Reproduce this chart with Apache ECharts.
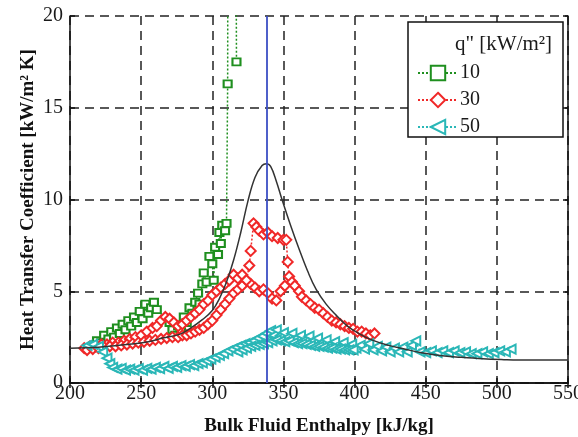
<!DOCTYPE html>
<html><head><meta charset="utf-8">
<script src="https://cdn.jsdelivr.net/npm/echarts@6/dist/echarts.min.js"></script>
<style>html,body{margin:0;padding:0;background:#fff}#c{width:578px;height:437px}</style>
</head><body><div id="c"></div>
<script>
// ---- data ----
const xTicks = [200, 250, 300, 350, 400, 450, 500, 550];
const yTicks = [0, 5, 10, 15, 20];
const legendNames = ['10', '30', '50'];
const markerEnthalpy = 338;

const q10X = [213,216,219,222,224,227,229,231,233,235,237,239,241,243,245,247,249,251,253,255,257,259,261,
  270,272,274,276,278,280,282,284,286,288,290,291,293,294,296,298,300,301,302,304,305,306,307,309,310,310.8,311,316.5,317];
const q10Y = [1.9,2.0,2.3,2.2,2.6,2.4,2.8,2.5,3.0,2.7,3.2,2.9,3.4,3.1,3.6,3.3,3.9,3.5,4.3,3.8,4.1,4.4,4.0,
  3.3,2.9,2.6,3.1,2.8,3.6,3.3,4.1,3.8,4.4,4.9,4.3,5.4,6.0,5.5,6.9,6.5,5.6,7.4,7.0,8.2,7.6,8.6,8.3,8.7,16.3,30,30,17.5];

const q30aX = [210,214,218,222,226,230,234,238,242,246,250,254,258,261,264,267,270,273,276,279,282,285,288,291,294,297,300,303,306,309,312,315,318,321,324,327,330,333,336,339,342,345,348,351];
const q30aY = [1.9,2.0,2.0,2.1,2.1,2.2,2.2,2.3,2.4,2.5,2.6,2.8,3.0,3.1,3.4,3.6,3.5,3.3,3.1,3.2,3.4,3.6,3.8,4.0,4.3,4.5,4.8,5.0,5.2,5.4,5.6,5.9,5.7,5.9,5.6,5.4,5.2,5.0,5.1,4.9,4.6,4.5,5.0,5.3];
const q30bX = [212,216,220,224,228,232,236,240,244,248,252,256,260,264,268,272,276,279,282,285,288,291,294,297,300,303,306,309,312,315,318,321,324,326,327,329,331,333,336,339,342,346,350,352,353,354,356,358,361,363,366,369,372,375,378,381,384,387,390,393,396,399,402,405,408,411,414];
const q30bY = [1.8,1.85,1.9,1.95,2.0,2.0,2.05,2.1,2.15,2.2,2.25,2.3,2.35,2.4,2.45,2.5,2.5,2.6,2.6,2.7,2.8,2.9,3.0,3.2,3.4,3.7,4.0,4.3,4.6,4.9,5.1,5.3,5.6,6.4,7.2,8.7,8.5,8.3,8.1,8.2,8.0,7.9,7.8,7.8,6.6,5.8,5.5,5.3,5.0,4.7,4.5,4.3,4.1,4.0,3.8,3.6,3.4,3.3,3.2,3.1,3.0,2.95,2.8,2.8,2.7,2.6,2.7];

const q50aX = [212,216,220,223,226,228,230,233,236,239,242,245,248,251,254,257,260,263,266,269,272,275,278,281,284,287,290,293,296,299,302,305,308,311,314,317,320,323,326,329,332,335,338,341,343,345,348,350,353,356,359,362,365,368,371,374,377,380,383,386,389,392,395,398,401,404,407,410,413,416,419,422,425,428,431,434,437,440,443,446,450,454,458,462,466,470,474,478,482,486,490,494,498,502,506,510];
const q50aY = [2.05,2.1,2.0,1.7,1.35,1.05,0.85,0.75,0.8,0.7,0.75,0.7,0.78,0.7,0.8,0.75,0.85,0.78,0.9,0.8,0.9,0.85,0.95,0.9,1.0,0.95,1.05,1.1,1.2,1.3,1.4,1.5,1.6,1.75,1.85,1.95,2.05,2.15,2.2,2.3,2.45,2.55,2.7,2.85,2.6,2.9,2.6,2.75,2.5,2.7,2.45,2.6,2.35,2.55,2.3,2.45,2.2,2.35,2.1,2.25,2.0,2.2,1.95,2.1,1.9,2.05,1.85,2.15,1.8,2.0,1.75,1.95,1.7,1.9,1.7,1.95,1.7,2.05,2.3,1.7,1.65,1.75,1.65,1.75,1.65,1.75,1.65,1.7,1.6,1.6,1.7,1.6,1.65,1.75,1.7,1.85];
const q50bX = [318,321,324,327,330,333,336,339,342,345,348,351,354,357,360,363,366,369,372,375,378,381,384,387,390,393,396,399];
const q50bY = [1.7,1.8,1.9,2.0,2.05,2.1,2.15,2.2,2.3,2.35,2.3,2.25,2.3,2.2,2.15,2.15,2.1,2.05,2.0,2.0,1.95,1.9,1.9,1.85,1.85,1.8,1.8,1.8];

const fitX = [200,220,240,255,265,277,285,293,300,305,310,315,320,325,330,335,338,341,345,349,355,361,367,373,380,387,395,403,412,424,435,447,460,475,490,505,515,550];
const fitY = [1.9,1.95,2.1,2.25,2.45,2.65,3.0,3.45,3.95,4.6,5.5,6.7,8.2,9.9,11.2,11.85,11.95,11.8,11.0,10.0,8.6,7.3,6.1,5.1,4.3,3.7,3.1,2.7,2.35,2.05,1.85,1.65,1.5,1.4,1.32,1.27,1.25,1.25];

// ---- chart ----
const zip = (xs, ys) => xs.map((x, i) => [x, ys[i]]);
const GREEN = '#1f8f1f', RED = '#f02828', CYAN = '#2ab7b7', BLUE = '#3c4fc4';
const SERIF = '"Liberation Serif", "DejaVu Serif", serif';

function ser(name, xs, ys, color, symbol, size, extra) {
  return Object.assign({
    name, type: 'line', data: zip(xs, ys), symbol, symbolSize: size,
    lineStyle: { color, width: 1.5, type: [2, 2] },
    itemStyle: { color, borderColor: color, borderWidth: 1.5 },
    emphasis: { disabled: true }, clip: true, z: 3
  }, extra || {});
}

const chart = echarts.init(document.getElementById('c'), null, { renderer: 'canvas' });
const axisCommon = {
  type: 'value', axisLine: { show: true, lineStyle: { color: '#111', width: 1.5 } },
  axisTick: { show: true, inside: true, length: 5, lineStyle: { color: '#111', width: 1.5 } }
};
chart.setOption({
  animation: false,
  backgroundColor: '#fff',
  grid: { left: 70, right: 10, top: 16, bottom: 54, containLabel: false, outerBoundsMode: 'none' },
  xAxis: [
    Object.assign({}, axisCommon, {
      min: xTicks[0], max: xTicks[xTicks.length - 1], interval: 50, position: 'bottom',
      name: 'Bulk Fluid Enthalpy [kJ/kg]', nameLocation: 'middle', nameGap: 34,
      nameTextStyle: { fontFamily: SERIF, fontWeight: 'bold', fontSize: 19, color: '#111' },
      axisLabel: { fontFamily: SERIF, fontSize: 20, color: '#1a1a1a', margin: 1 },
      splitLine: { show: true, lineStyle: { color: '#222', width: 1.5, type: [9, 6] } }
    }),
    Object.assign({}, axisCommon, {
      min: xTicks[0], max: xTicks[xTicks.length - 1], interval: 50, position: 'top',
      axisLabel: { show: false }, splitLine: { show: false }
    })
  ],
  yAxis: [
    Object.assign({}, axisCommon, {
      min: yTicks[0], max: yTicks[yTicks.length - 1], interval: 5, position: 'left',
      name: 'Heat Transfer Coefficient [kW/m² K]', nameLocation: 'middle', nameGap: 32,
      nameMoveOverlap: false,
      nameTextStyle: { fontFamily: SERIF, fontWeight: 'bold', fontSize: 19, color: '#111' },
      axisLabel: { fontFamily: SERIF, fontSize: 20, color: '#1a1a1a', margin: 7 },
      splitLine: { show: true, lineStyle: { color: '#222', width: 1.5, type: [9, 6] } }
    }),
    Object.assign({}, axisCommon, {
      min: yTicks[0], max: yTicks[yTicks.length - 1], interval: 5, position: 'right',
      axisLabel: { show: false }, splitLine: { show: false }
    })
  ],
  legend: {
    data: legendNames, orient: 'vertical', left: 412, top: 58, itemGap: 7,
    itemWidth: 40, itemHeight: 18, z: 10,
    textStyle: { fontFamily: SERIF, fontSize: 20, color: '#1a1a1a', padding: [0, 0, 0, -3] }
  },
  graphic: [
    { type: 'rect', shape: { x: 408, y: 22, width: 155, height: 115 },
      style: { fill: '#fff', stroke: '#111', lineWidth: 1.5 }, z: 5 },
    { type: 'text', left: 455, top: 34, z: 11,
      style: { text: 'q" [kW/m²]', font: '21px "Liberation Serif", serif', fill: '#1a1a1a' } }
  ],
  series: [
    { name: 'fit', type: 'line', data: zip(fitX, fitY), smooth: 0.4, symbol: 'none',
      lineStyle: { color: '#333', width: 1.5 }, z: 4, emphasis: { disabled: true },
      markLine: { silent: true, symbol: 'none', label: { show: false },
        lineStyle: { color: BLUE, width: 1.8, type: 'solid' }, data: [{ xAxis: markerEnthalpy }] } },
    ser('10', q10X, q10Y, GREEN, 'emptyRect', [8, 7]),
    ser('30', q30aX, q30aY, RED, 'emptyDiamond', 10),
    ser('30', q30bX, q30bY, RED, 'emptyDiamond', 10),
    ser('50', q50aX, q50aY, CYAN, 'emptyTriangle', 9, { symbolRotate: 90 }),
    ser('50', q50bX, q50bY, CYAN, 'emptyTriangle', 9, { symbolRotate: 90 })
  ]
});
</script>
</body></html>
